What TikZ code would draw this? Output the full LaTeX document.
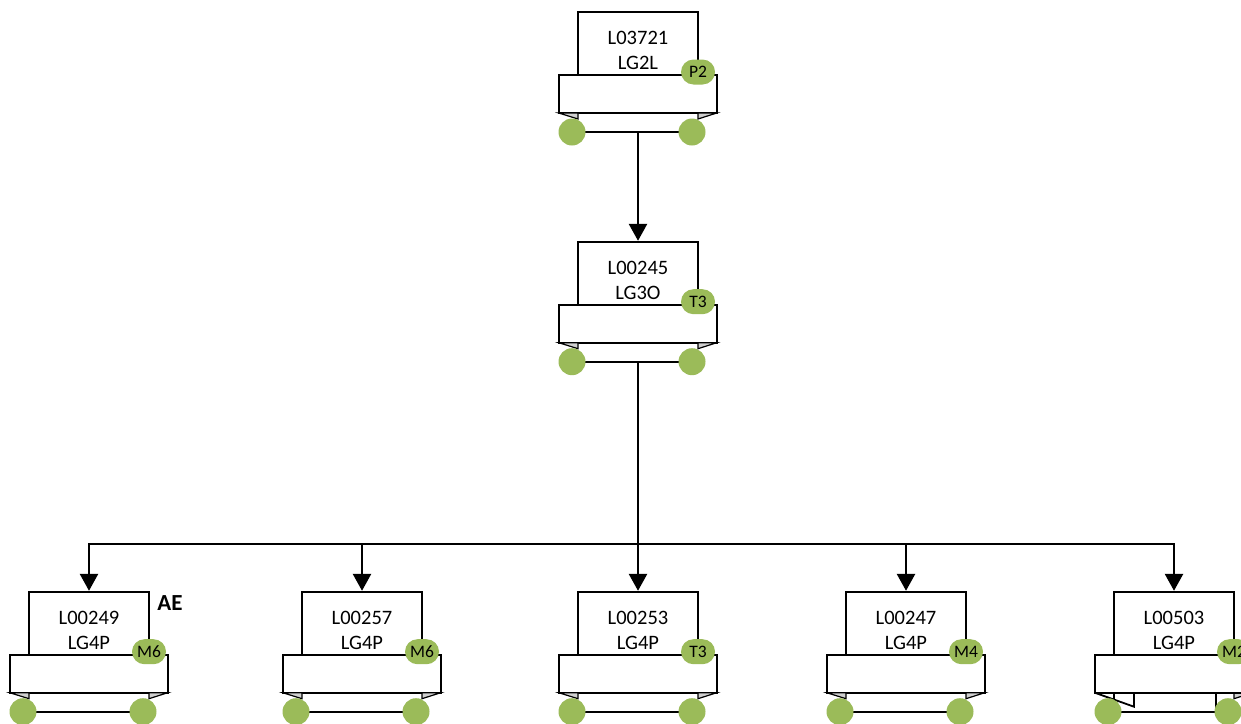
\documentclass[tikz,border=0pt]{standalone}
\usepackage{fontspec}
\setmainfont{Carlito}
\usetikzlibrary{arrows.meta}
\definecolor{badgegreen}{HTML}{9BBB59}
\definecolor{trigray}{HTML}{D0D0D0}
\tikzset{
  ubox/.style={draw, fill=white, line width=1.8pt, minimum width=120pt, minimum height=63pt, inner sep=0pt},
  wbox/.style={draw, fill=white, line width=1.8pt, minimum width=158pt, minimum height=38pt, inner sep=0pt},
  lbl/.style={align=center, inner sep=0pt, font=\fontsize{20.5}{25}\selectfont},
  badge/.style={fill=badgegreen, rounded corners=12.5pt, minimum width=34pt, minimum height=25pt, inner sep=0pt, font=\fontsize{17.5}{17.5}\selectfont},
  dot/.style={circle, fill=badgegreen, minimum size=27pt, inner sep=0pt},
  tri/.style={fill=trigray, draw, line width=1.2pt, line join=miter},
  wheel/.style={line width=1.8pt},
  conn/.style={line width=2.7pt, -{Triangle[width=18pt,length=17pt]}},
  bus/.style={line width=2.7pt}
}
% #1 name, #2 cx, #3 top, #4 id, #5 level, #6 badge
\newcommand\orgnode[6]{%
  \begin{scope}[shift={(#2,#3)}]
    \draw[wheel] (-66,120) -- (54,120);
    \node[ubox] (#1-u) at (0,31.5) {};
    \node[lbl] (#1-t) at (0,38.5) {#4\\#5};
    \node[wbox] (#1-w) at (-0.25,82) {};
    \draw[tri] (-79.25,101) -- (-60,101) -- (-60,107) -- cycle;
    \draw[tri] (78.75,101) -- (60,101) -- (60,107) -- cycle;
    \node[badge] (#1-g) at (60,60) {#6};
    \node[dot] (#1-l) at (-66,120) {};
    \node[dot] (#1-r) at (54,120) {};
    \coordinate (#1-b) at (0,120);
  \end{scope}}
\begin{document}
\begin{tikzpicture}[x=1pt,y=-1pt]
\useasboundingbox (0,0) rectangle (1241,723);
\orgnode{top}{638}{12}{L03721}{LG2L}{P2}
\orgnode{mid}{638}{241.7}{L00245}{LG3O}{T3}
\orgnode{na}{89}{591.7}{L00249}{LG4P}{M6}
\orgnode{nb}{362}{591.7}{L00257}{LG4P}{M6}
\orgnode{nc}{638}{591.7}{L00253}{LG4P}{T3}
\orgnode{nd}{906}{591.7}{L00247}{LG4P}{M4}
% fifth node with its own lower outline
\begin{scope}[shift={(1174,591.7)}]
  \draw[wheel] (-66,120) -- (54,120);
  \node[ubox] (ne-u) at (0,31.5) {};
  \node[lbl] (ne-t) at (0,38.5) {L00503\\LG4P};
  \draw[wheel, fill=white] (-79.25,101) -- (-40,115) -- (-40,101);
  \draw[wheel] (-60,101) -- (-60,108);
  \draw[wheel] (42,101) -- (42,119);
  \draw[tri] (78.75,101) -- (60,101) -- (60,107) -- cycle;
  \node[wbox] (ne-w) at (-0.25,82) {};
  \node[badge] (ne-g) at (60,60) {M2};
  \node[dot] (ne-l) at (-66,120) {};
  \node[dot] (ne-r) at (54,120) {};
  \coordinate (ne-b) at (0,120);
\end{scope}
\node[font=\bfseries\fontsize{23}{23}\selectfont, inner sep=0pt] (ae) at (170,603) {AE};
% connectors
\draw[conn] (top-b) -- (mid-u.north);
\coordinate (busc) at (638,544);
\draw[bus] (mid-b) -- (busc);
\draw[conn] (busc) -- (nc-u.north);
\draw[conn] (busc) -| (na-u.north);
\draw[conn] (busc) -| (nb-u.north);
\draw[conn] (busc) -| (nd-u.north);
\draw[conn] (busc) -| (ne-u.north);
\end{tikzpicture}
\end{document}
